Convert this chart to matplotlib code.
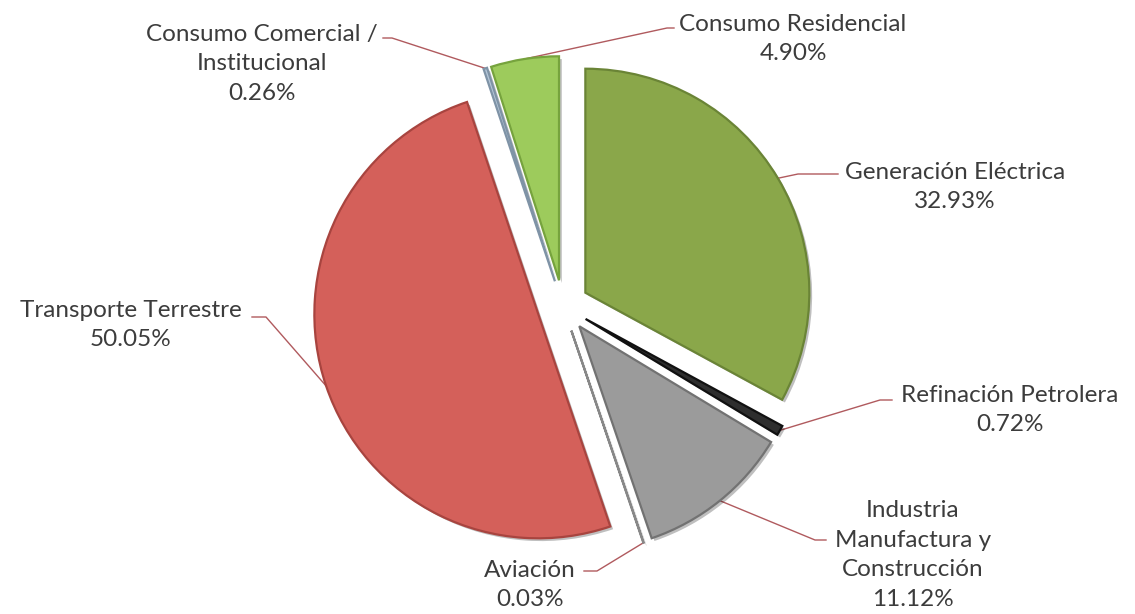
import numpy as np
import matplotlib
matplotlib.use('Agg')
import matplotlib.pyplot as plt
import matplotlib.patheffects as pe

# data, clockwise from 12 o'clock
sectores = ['Generación Eléctrica', 'Refinación Petrolera',
            'Industria\nManufactura y\nConstrucción', 'Aviación',
            'Transporte Terrestre', 'Consumo Comercial /\nInstitucional',
            'Consumo Residencial']
valores = [32.93, 0.72, 11.12, 0.03, 50.05, 0.26, 4.90]
colores = ['#8aa74a', '#2e2e2e', '#9b9b9b', '#c8c8c8', '#d4605a', '#b4c6d8', '#9dcb5c']
bordes = ['#6a8436', '#111111', '#727272', '#888888', '#a8443f', '#7f93a6', '#76a33d']

W, H = 1135, 614
plt.rcParams['font.family'] = ['Lato', 'DejaVu Sans']

fig = plt.figure(figsize=(W / 100, H / 100), dpi=100)
ax = fig.add_axes([0, 0, 1, 1])

R = 224
centro = (563, H - 306)
# pie's explode offset is in data units here (radius != 1)
wedges, _ = ax.pie(valores, colors=colores, startangle=90, counterclock=False,
                   radius=R, center=centro, explode=[26] * len(valores),
                   wedgeprops=dict(linewidth=1.6), frame=True)
ax.set_xlim(0, W)
ax.set_ylim(0, H)
ax.axis('off')
for w, ec in zip(wedges, bordes):
    w.set_edgecolor(ec)
    w.set_path_effects([pe.withSimplePatchShadow(offset=(2, -2), shadow_rgbFace='#000000', alpha=0.25)])

# label layout in pixel coords: text centre, elbow of leader, text side
layout = [
    ((955, 187), (798, 174), (838, 174)),
    ((1010, 410), (880, 400), (892, 400)),
    ((913, 555), (815, 540), (826, 540)),
    ((530, 585), (597, 571), (584, 571)),
    ((131, 325), (266, 317), (252, 317)),
    ((262, 64), (392, 38), (383, 38)),
    ((793, 39), (667, 28), (674, 28)),
]

for w, nombre, v, (txt, codo, lado) in zip(wedges, sectores, valores, layout):
    ang = np.deg2rad((w.theta1 + w.theta2) / 2)
    cx, cy = w.center
    ancla = (cx + w.r * np.cos(ang), cy + w.r * np.sin(ang))
    ax.plot([ancla[0], codo[0], lado[0]], [ancla[1], H - codo[1], H - lado[1]],
            color='#b05a5e', lw=1.0, zorder=0)
    ax.text(txt[0], H - txt[1], f'{nombre}\n{v:.2f}%', ha='center', va='center',
            fontsize=17.5, color='#3c3c3c', linespacing=1.5)

fig.savefig('out.png', dpi=100, facecolor='white')
